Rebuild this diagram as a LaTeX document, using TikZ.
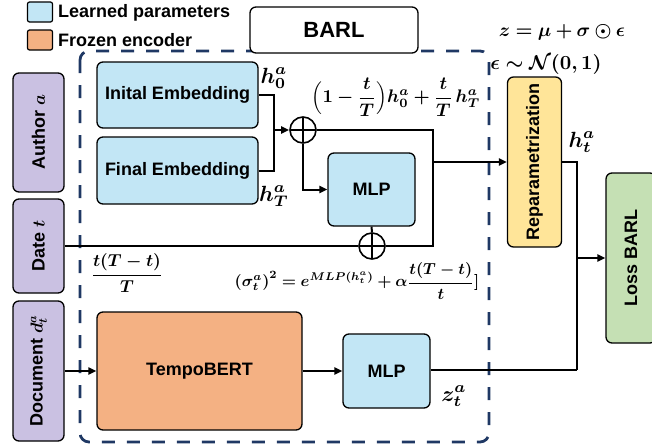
\documentclass[tikz,border=0pt]{standalone}
\usepackage{amsmath,bm}
\usepackage{fontspec}
\setmainfont{Liberation Sans}
\usetikzlibrary{arrows.meta}
\definecolor{learnblue}{RGB}{194,230,245}
\definecolor{frozenorange}{RGB}{244,177,131}
\definecolor{inputpurple}{RGB}{202,193,226}
\definecolor{repyellow}{RGB}{255,229,153}
\definecolor{lossgreen}{RGB}{197,224,180}
\definecolor{navy}{RGB}{31,56,100}
% bold math, set at 10pt and enlarged
\newcommand{\bigmath}[2]{\scalebox{#1}{$\displaystyle\bm{#2}$}}
\newsavebox{\interpbox}
\newsavebox{\weightbox}
\newsavebox{\sigmabox}
\newsavebox{\zbox}
\newsavebox{\epsbox}
\tikzset{
  blk/.style={draw=black, line width=1.3pt, rounded corners=6pt, inner sep=0pt,
    align=center, font=\fontsize{18}{21}\selectfont\bfseries},
  learned/.style={blk, fill=learnblue},
  inputbox/.style={blk, fill=inputpurple, minimum width=51pt},
  summer/.style={circle, draw=black, line width=1.6pt, minimum size=26pt, inner sep=0pt,
    path picture={\draw[line width=1.6pt] (path picture bounding box.north) -- (path picture bounding box.south)
      (path picture bounding box.west) -- (path picture bounding box.east);}},
  wire/.style={line width=2pt, line join=miter},
  arr/.style={wire, -{Triangle[length=8pt,width=7pt]}},
  eqlabel/.style={inner sep=0pt},
  legtxt/.style={anchor=west, inner sep=0pt, font=\fontsize{18}{21}\selectfont\bfseries},
}
\begin{document}
% formulas are typeset once, ahead of the picture
\sbox{\interpbox}{\bigmath{1.82}{\Bigl(1-\dfrac{t}{T}\Bigr)h_0^a+\dfrac{t}{T}\,h_T^a}}%
\sbox{\weightbox}{\bigmath{1.73}{\dfrac{t(T-t)}{T}}}%
\sbox{\sigmabox}{\bigmath{1.6}{(\sigma_t^a)^2=e^{MLP(h_t^a)}+\alpha\dfrac{t(T-t)}{t}]}}%
\sbox{\zbox}{\bigmath{1.9}{z=\mu+\sigma\odot\epsilon}}%
\sbox{\epsbox}{\bigmath{2.0}{\epsilon\sim\mathcal{N}(0,1)}}%
\begin{tikzpicture}[x=1pt,y=-1pt]
\useasboundingbox (0,0) rectangle (652,447);

% dashed frame around the model
\draw[navy, line width=2.8pt, dash pattern=on 13pt off 12pt, rounded corners=9pt]
  (80,51) rectangle (489,442);

% legend
\node[draw=black, line width=1.2pt, fill=learnblue, rounded corners=2pt, minimum width=25pt, minimum height=20pt, inner sep=0pt] (legL) at (40,12) {};
\node[legtxt] (legLt) at (58,13) {Learned parameters};
\node[draw=black, line width=1.2pt, fill=frozenorange, rounded corners=2pt, minimum width=25pt, minimum height=20pt, inner sep=0pt] (legF) at (40,40) {};
\node[legtxt] (legFt) at (58,40) {Frozen encoder};

% title box
\node[blk, fill=white, minimum width=168pt, minimum height=46pt, font=\fontsize{22}{26}\selectfont\bfseries] (barl) at (334,30) {BARL};

% inputs
\node[inputbox, minimum height=119pt] (author) at (38.5,132.5) {\rotatebox{90}{Author $\bm{a}$}};
\node[inputbox, minimum height=94pt] (date) at (38.5,246) {\rotatebox{90}{Date $\bm{t}$}};
\node[inputbox, minimum height=140pt] (doc) at (38.5,371) {\rotatebox{90}{Document $\bm{d_t^a}$}};

% learned blocks
\node[learned, minimum width=161pt, minimum height=66pt] (init) at (177.5,95) {Inital Embedding};
\node[learned, minimum width=161pt, minimum height=67pt] (final) at (177.5,170.5) {Final Embedding};
\node[learned, minimum width=87pt, minimum height=73pt] (mlp1) at (371.5,189.5) {MLP};
\node[learned, minimum width=87pt, minimum height=74pt] (mlp2) at (386.5,371) {MLP};
\node[blk, fill=frozenorange, minimum width=205pt, minimum height=118pt] (tempo) at (199.5,371) {TempoBERT};
\node[blk, fill=repyellow, minimum width=54pt, minimum height=170pt] (repar) at (534.5,162) {\rotatebox{90}{Reparametrization}};
\node[blk, fill=lossgreen, minimum width=50pt, minimum height=170pt] (loss) at (631,258) {\rotatebox{90}{Loss BARL}};

% summing junctions
\node[summer] (plus1) at (303,130) {};
\node[summer] (plus2) at (372,246) {};

% routing points
\coordinate (j1) at (274,130);
\coordinate (j2) at (433,130);
\coordinate (j3) at (433,246);
\coordinate (j4) at (433,162);
\coordinate (j5) at (577,370);

% connectors
\draw[wire] (init.east) -| (j1);
\draw[wire] (final.east) -| (j1);
\draw[arr] (j1) -- (plus1.west);
\draw[wire] (plus1.east) -- (j2) -- (j3) -- (plus2.east);
\draw[arr] (j4) -- (repar.west);
\draw[arr] (plus1.south) |- (mlp1.west);
\draw[wire] (mlp1.south) -- (plus2.north);
\draw[wire] (date.east |- plus2.west) -- (plus2.west);
\draw[arr] (doc.east) -- (tempo.west);
\draw[arr] (tempo.east) -- (mlp2.west);
\draw[wire] (repar.east |- j4) -| (j5);
\draw[wire] (mlp2.east |- j5) -- (j5);
\draw[arr] (j5 |- loss.west) -- (loss.west);

% labels
\node[eqlabel] (h0) at (274,78) {\bigmath{2.2}{h_0^a}};
\node[eqlabel] (hT) at (274,196) {\bigmath{2.2}{h_T^a}};
\node[eqlabel] (ht) at (582,142) {\bigmath{2.2}{h_t^a}};
\node[eqlabel] (zt) at (454,396) {\bigmath{2.2}{z_t^a}};
\node[eqlabel] (interp) at (396,97) {\usebox{\interpbox}};
\node[eqlabel] (wfrac) at (127,273) {\usebox{\weightbox}};
\node[eqlabel] (sigma) at (357,281) {\usebox{\sigmabox}};
\node[eqlabel] (zeq) at (562,32) {\usebox{\zbox}};
\node[eqlabel] (eps) at (546,64) {\usebox{\epsbox}};
\end{tikzpicture}
\end{document}
